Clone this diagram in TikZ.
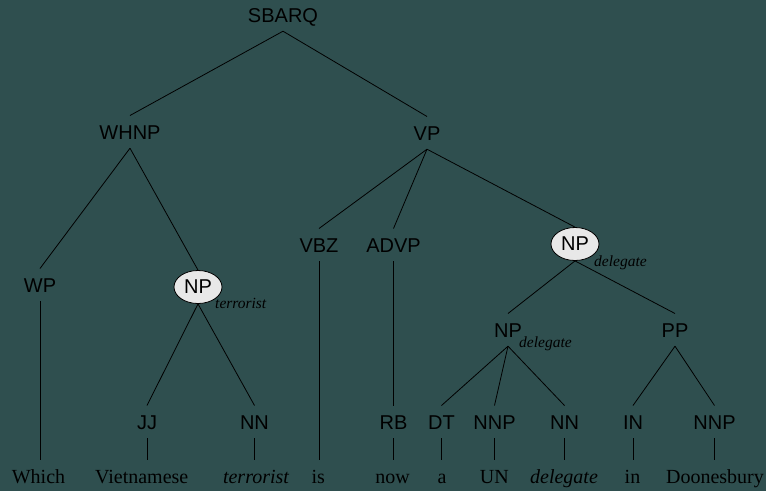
\documentclass[tikz,border=0pt]{standalone}
\usepackage{fontspec}
\setmainfont{Liberation Serif}
\newfontfamily\labfont{Liberation Sans}
\usetikzlibrary{shapes.geometric}
\definecolor{bg}{HTML}{2F4F4F}
\definecolor{ovalfill}{HTML}{E8E8E8}
\begin{document}
\begin{tikzpicture}[x=1pt,y=-1pt,
  lab/.style={font=\labfont\fontsize{20}{24}\selectfont, text height=14.3pt, text depth=0pt, inner xsep=2pt, inner ysep=9pt, anchor=base},
  oval/.style={ellipse, draw=black, line width=0.8pt, fill=ovalfill, minimum width=48pt, minimum height=33pt, inner sep=0pt, font=\labfont\fontsize{20}{24}\selectfont},
  word/.style={font=\fontsize{20}{24}\selectfont, text height=14pt, text depth=0pt, inner xsep=1pt, inner ysep=9pt, anchor=base},
  sub/.style={font=\fontsize{15.5}{18}\selectfont\itshape, inner sep=0pt, anchor=base west},
  edge/.style={draw=black, line width=0.8pt}]
\fill[bg] (0,0) rectangle (766,491);
\useasboundingbox (0,0) rectangle (766,491);
% phrase labels
\node[lab] (sbarq) at (283,22) {SBARQ};
\node[lab] (whnp) at (130,139) {WHNP};
\node[lab] (vp) at (427,140) {VP};
\node[lab] (wp) at (40,292) {WP};
\node[oval] (npt) at (198,287) {NP};
\node[sub] (subt) at (215,308) {terrorist};
\node[lab] (vbz) at (319,252) {VBZ};
\node[lab] (advp) at (393.5,252) {ADVP};
\node[oval] (npd) at (575,244) {NP};
\node[sub] (subd) at (594,266) {delegate};
\node[lab] (npl) at (508,337) {NP};
\node[sub] (subl) at (519,347) {delegate};
\node[lab] (pp) at (675,337) {PP};
% preterminals
\node[lab] (jj) at (147,429) {JJ};
\node[lab] (nna) at (254.5,429) {NN};
\node[lab] (rb) at (393.5,429) {RB};
\node[lab] (dt) at (441.5,429) {DT};
\node[lab] (nnpa) at (494.5,429) {NNP};
\node[lab] (nnb) at (564.5,429) {NN};
\node[lab] (inn) at (633,429) {IN};
\node[lab] (nnpb) at (714.5,429) {NNP};
% words
\node[word] (w1) at (38.5,483) {Which};
\node[word] (w2) at (141.7,483) {Vietnamese};
\node[word] (w3) at (256,483) {\itshape terrorist};
\node[word] (w4) at (318.3,483) {is};
\node[word] (w5) at (392.5,483) {now};
\node[word] (w6) at (442,483) {a};
\node[word] (w7) at (494.3,483) {UN};
\node[word] (w8) at (564,483) {\itshape delegate};
\node[word] (w9) at (632.5,483) {in};
\node[word] (w10) at (715,483) {Doonesbury};
% tree edges
\draw[edge] (sbarq.south) -- (whnp.north);
\draw[edge] (sbarq.south) -- (vp.north);
\draw[edge] (whnp.south) -- (wp.north);
\draw[edge] (whnp.south) -- (npt.north);
\draw[edge] (vp.south) -- (vbz.north);
\draw[edge] (vp.south) -- (advp.north);
\draw[edge] (vp.south) -- (npd.north);
\draw[edge] (npt.south) -- (jj.north);
\draw[edge] (npt.south) -- (nna.north);
\draw[edge] (advp.south) -- (rb.north);
\draw[edge] (npd.south) -- (npl.north);
\draw[edge] (npd.south) -- (pp.north);
\draw[edge] (npl.south) -- (dt.north);
\draw[edge] (npl.south) -- (nnpa.north);
\draw[edge] (npl.south) -- (nnb.north);
\draw[edge] (pp.south) -- (inn.north);
\draw[edge] (pp.south) -- (nnpb.north);
% leaf edges
\draw[edge] (wp.south) -- (wp.south |- w1.north);
\draw[edge] (jj.south) -- (jj.south |- w2.north);
\draw[edge] (nna.south) -- (nna.south |- w3.north);
\draw[edge] (vbz.south) -- (vbz.south |- w4.north);
\draw[edge] (rb.south) -- (rb.south |- w5.north);
\draw[edge] (dt.south) -- (dt.south |- w6.north);
\draw[edge] (nnpa.south) -- (nnpa.south |- w7.north);
\draw[edge] (nnb.south) -- (nnb.south |- w8.north);
\draw[edge] (inn.south) -- (inn.south |- w9.north);
\draw[edge] (nnpb.south) -- (nnpb.south |- w10.north);
\end{tikzpicture}
\end{document}
